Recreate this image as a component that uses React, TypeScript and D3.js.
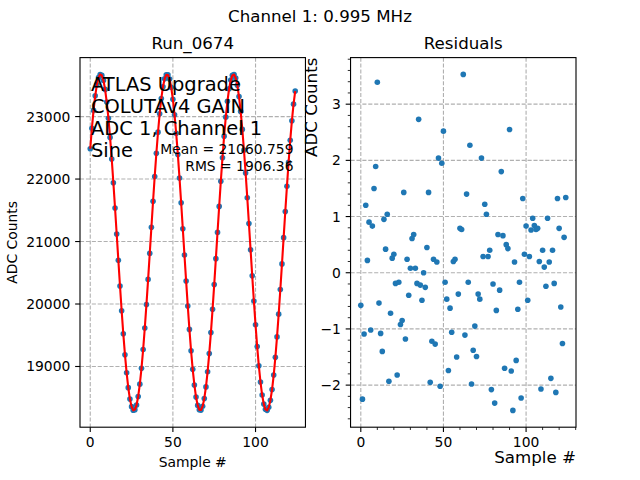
import React from 'react';
import * as d3 from 'd3';

const adcCounts: number[] = [
  22484, 22814, 23099, 23332, 23508, 23623, 23674, 23659, 23578, 23435,
  23232, 22974, 22667, 22320, 21940, 21537, 21121, 20701, 20288, 19892,
  19523, 19189, 18899, 18661, 18478, 18357, 18300, 18309, 18383, 18520,
  18717, 18970, 19272, 19616, 19993, 20394, 20810, 21229, 21644, 22042,
  22414, 22751, 23046, 23290, 23478, 23605, 23669, 23667, 23600, 23468,
  23277, 23029, 22732, 22392, 22018, 21619, 21204, 20784, 20369, 19969,
  19594, 19253, 18954, 18704, 18510, 18377, 18307, 18302, 18363, 18488,
  18673, 18915, 19208, 19544, 19915, 20312, 20726, 21146, 21562, 21964,
  22342, 22687, 22991, 23245, 23445, 23585, 23661, 23672, 23618, 23500,
  23320, 23083, 22795, 22463, 22096, 21701, 21288, 20868, 20451, 20048,
  19667, 19318, 19010, 18750, 18544, 18398, 18315, 18298, 18346, 18458,
  18632, 18863, 19146, 19474, 19838, 20231, 20642, 21062, 21479, 21885,
  22269, 22621, 22934, 23199, 23410,
];

const residuals: number[] = [
  -0.58, -2.25, -1.09, 1.2, 0.22, 0.9, -1.02, 0.83, 1.5, 1.89,
  3.39, -0.54, -1.08, -1.4, 0.95, 0.42, 1.04, -1.93, -0.72, 0.26,
  0.33, -0.19, -1.82, -0.17, -0.92, -0.85, 1.43, -1.18, 0.24, -0.4,
  0.08, 0.61, 0.68, 0.08, -0.19, 2.73, -0.22, -0.49, 0.0, -0.26,
  0.45, 1.43, -1.95, -1.22, 0.24, -1.27, 0.19, 2.04, -2.02, 1.95,
  2.52, -0.17, -0.47, -1.74, -0.63, -1.06, 0.2, 0.24, -1.5, -0.38,
  0.79, 0.77, 3.53, -1.11, 1.4, -0.17, 2.27, -1.98, -1.38, -0.95,
  -1.49, -0.38, -0.47, 2.04, 0.29, 1.22, 1.04, 0.29, 0.4, -2.08,
  -0.2, -2.32, -0.67, 0.68, -0.31, 1.8, 0.66, -1.7, 0.5, 0.43,
  2.55, -1.75, -2.45, 0.19, -1.56, -0.65, -0.17, -2.23, 1.32, 0.33,
  0.83, -0.49, 0.29, 0.76, 0.97, 0.84, 0.77, 0.79, 0.2, -2.07,
  0.4, 0.1, -0.24, 0.97, 0.19, -1.88, 0.4, -0.19, -2.13, 1.32,
  0.79, -0.61, -1.26, 0.63, 1.34,
];

const leftYTicks = [19000, 20000, 21000, 22000, 23000];
const xTicks = [0, 50, 100];
const resYTicks = [-2, -1, 0, 1, 2, 3];
const infoLines = ['ATLAS Upgrade', 'COLUTAv4 GAIN', 'ADC 1, Channel 1', 'Sine'];
const statLines = ['Mean = 21060.759', 'RMS = 1906.36'];
const suptitle = 'Channel 1: 0.995 MHz';
const leftTitle = 'Run_0674';
const rightTitle = 'Residuals';

const W = 640;
const H = 480;
const TOP = 57.6;
const BOTTOM = 427.2;
const L1 = 80;
const R1 = 305.45;
const L2 = 350.55;
const R2 = 576;
const FONT = 'DejaVu Sans';
const BLUE = '#1f77b4';
const GRID = '#b0b0b0';

function padded(ext: [number, number]): [number, number] {
  const s = ext[1] - ext[0];
  return [ext[0] - 0.05 * s, ext[1] + 0.05 * s];
}

const fmtTick = (v: number) => (v < 0 ? '\u2212' + Math.abs(v) : String(v));

export default function App() {
  const idx = adcCounts.map((_, i) => i);
  const fit = adcCounts.map((v, i) => v - residuals[i]);

  const xDom = padded(d3.extent(idx) as [number, number]);
  const x1 = d3.scaleLinear().domain(xDom).range([L1, R1]);
  const x2 = d3.scaleLinear().domain(xDom).range([L2, R2]);
  const yDom = padded(d3.extent([...adcCounts, ...fit]) as [number, number]);
  const y1 = d3.scaleLinear().domain(yDom).range([BOTTOM, TOP]);
  const y2 = d3.scaleLinear().domain(padded(d3.extent(residuals) as [number, number])).range([BOTTOM, TOP]);

  const line = d3
    .line<number>()
    .x((_, i) => x1(i))
    .y((d) => y1(d));

  const xMinor = d3.range(1, 14).map((k) => k * 10).filter((v) => v % 50 !== 0 && x2(v) <= R2 + 0.5);
  const [r0, r1] = y2.domain();
  const yMinor = d3
    .range(Math.ceil(r0 / 0.2 - 1e-9), Math.floor(r1 / 0.2 + 1e-9) + 1)
    .filter((k) => k % 5 !== 0)
    .map((k) => k * 0.2);

  const dash = '4.1,1.8';
  const tickLen = 4.86;
  const minorLen = 2.78;

  return (
    <svg
      width={W}
      height={H}
      viewBox={`0 0 ${W} ${H}`}
      style={{ position: 'absolute', left: 0, top: 0, background: '#fff' }}
      fontFamily={FONT}
    >
      <rect x={0} y={0} width={W} height={H} fill="#fff" />
      <text x={320} y={21.7} fontSize={16.67} textAnchor="middle">
        {suptitle}
      </text>

      {/* Left panel */}
      <text x={(L1 + R1) / 2} y={48.5} fontSize={16.67} textAnchor="middle">
        {leftTitle}
      </text>
      <g>
        {xTicks.map((t) => (
          <line key={'gx1' + t} x1={x1(t)} x2={x1(t)} y1={TOP} y2={BOTTOM} stroke={GRID} strokeWidth={1.11} strokeDasharray={dash} />
        ))}
        {leftYTicks.map((t) => (
          <line key={'gy1' + t} x1={L1} x2={R1} y1={y1(t)} y2={y1(t)} stroke={GRID} strokeWidth={1.11} strokeDasharray={dash} />
        ))}
        {adcCounts.map((v, i) => (
          <circle key={'p' + i} cx={x1(i)} cy={y1(v)} r={2.8} fill={BLUE} />
        ))}
        <path d={line(fit) || ''} fill="none" stroke="#ff0000" strokeWidth={2.1} strokeLinejoin="round" />
        <rect x={L1} y={TOP} width={R1 - L1} height={BOTTOM - TOP} fill="none" stroke="#000" strokeWidth={1.11} />
        {xTicks.map((t) => (
          <g key={'tx1' + t}>
            <line x1={x1(t)} x2={x1(t)} y1={BOTTOM} y2={BOTTOM + tickLen} stroke="#000" strokeWidth={1.11} />
            <text x={x1(t)} y={447} fontSize={13.89} textAnchor="middle">
              {fmtTick(t)}
            </text>
          </g>
        ))}
        {leftYTicks.map((t) => (
          <g key={'ty1' + t}>
            <line x1={L1 - tickLen} x2={L1} y1={y1(t)} y2={y1(t)} stroke="#000" strokeWidth={1.11} />
            <text x={L1 - 9.7} y={y1(t) + 5} fontSize={13.89} textAnchor="end">
              {fmtTick(t)}
            </text>
          </g>
        ))}
        <text x={(L1 + R1) / 2} y={467.3} fontSize={13.89} textAnchor="middle">
          Sample #
        </text>
        <text transform={`translate(17,${(TOP + BOTTOM) / 2}) rotate(-90)`} fontSize={13.89} textAnchor="middle">
          ADC Counts
        </text>
        {infoLines.map((s, i) => (
          <text key={'info' + i} x={91} y={90.7 + i * 22} fontSize={19.44}>
            {s}
          </text>
        ))}
        {statLines.map((s, i) => (
          <text key={'stat' + i} x={293.5} y={153.6 + i * 16.9} fontSize={13.89} textAnchor="end">
            {s}
          </text>
        ))}
      </g>

      {/* Right panel */}
      <text x={(L2 + R2) / 2} y={48.5} fontSize={16.67} textAnchor="middle">
        {rightTitle}
      </text>
      <g>
        {xTicks.map((t) => (
          <line key={'gx2' + t} x1={x2(t)} x2={x2(t)} y1={TOP} y2={BOTTOM} stroke={GRID} strokeWidth={1.11} strokeDasharray={dash} />
        ))}
        {resYTicks.map((t) => (
          <line key={'gy2' + t} x1={L2} x2={R2} y1={y2(t)} y2={y2(t)} stroke={GRID} strokeWidth={1.11} strokeDasharray={dash} />
        ))}
        {residuals.map((v, i) => (
          <circle key={'r' + i} cx={x2(i)} cy={y2(v)} r={2.8} fill={BLUE} />
        ))}
        <rect x={L2} y={TOP} width={R2 - L2} height={BOTTOM - TOP} fill="none" stroke="#000" strokeWidth={1.11} />
        {xTicks.map((t) => (
          <g key={'tx2' + t}>
            <line x1={x2(t)} x2={x2(t)} y1={BOTTOM} y2={BOTTOM + tickLen} stroke="#000" strokeWidth={1.11} />
            <text x={x2(t)} y={447} fontSize={13.89} textAnchor="middle">
              {fmtTick(t)}
            </text>
          </g>
        ))}
        {xMinor.map((t) => (
          <line key={'mx' + t} x1={x2(t)} x2={x2(t)} y1={BOTTOM} y2={BOTTOM + minorLen} stroke="#000" strokeWidth={0.83} />
        ))}
        {resYTicks.map((t) => (
          <g key={'ty2' + t}>
            <line x1={L2 - tickLen} x2={L2} y1={y2(t)} y2={y2(t)} stroke="#000" strokeWidth={1.11} />
            <text x={L2 - 9.7} y={y2(t) + 5} fontSize={13.89} textAnchor="end">
              {fmtTick(t)}
            </text>
          </g>
        ))}
        {yMinor.map((t) => (
          <line key={'my' + t} x1={L2 - minorLen} x2={L2} y1={y2(t)} y2={y2(t)} stroke="#000" strokeWidth={0.83} />
        ))}
        <text x={R2} y={463.3} fontSize={16.67} textAnchor="end">
          Sample #
        </text>
        <text transform={`translate(317,${TOP}) rotate(-90)`} fontSize={16.67} textAnchor="end">
          ADC Counts
        </text>
      </g>
    </svg>
  );
}
